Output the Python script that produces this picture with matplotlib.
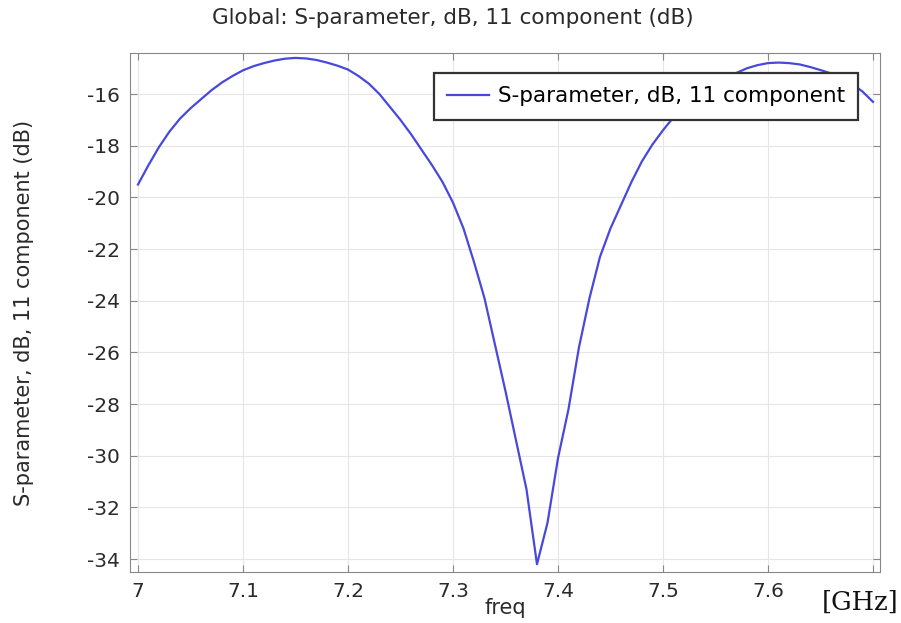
import numpy as np
import matplotlib
matplotlib.use('Agg')
import matplotlib.pyplot as plt

plt.rcParams['axes.unicode_minus'] = False

# S11, 0.01 GHz steps
freq = np.round(np.arange(7.0, 7.7001, 0.01), 2)
s11_db = [
    -19.5, -18.75, -18.05, -17.45, -16.95, -16.55, -16.2, -15.85, -15.55, -15.3,
    -15.08, -14.92, -14.8, -14.7, -14.63, -14.6, -14.62, -14.68, -14.78, -14.9,
    -15.05, -15.3, -15.6, -16.0, -16.5, -17.0, -17.55, -18.15, -18.75, -19.4,
    -20.2, -21.2, -22.5, -23.9, -25.7, -27.5, -29.4, -31.3, -34.2, -32.6,
    -30.1, -28.2, -25.8, -23.9, -22.3, -21.2, -20.3, -19.4, -18.6, -17.95,
    -17.4, -16.9, -16.5, -16.15, -15.85, -15.6, -15.38, -15.18, -15.0, -14.88,
    -14.8, -14.78, -14.8, -14.85, -14.95, -15.07, -15.2, -15.38, -15.6, -15.9,
    -16.3,
]
xticks = [7.0, 7.1, 7.2, 7.3, 7.4, 7.5, 7.6, 7.7]
xticklabels = ['7', '7.1', '7.2', '7.3', '7.4', '7.5', '7.6', '']
yticks = list(range(-34, -15, 2))

fig = plt.figure(figsize=(9.01, 6.23), dpi=100)
ax = fig.add_axes([0.1443, 0.0819, 0.8324, 0.833])

ax.plot(freq, s11_db, color='#4848dc', lw=1.6, label='S-parameter, dB, 11 component')

ax.set_xlim(6.9924, 7.7067)
ax.set_ylim(-34.5, -14.41)
ax.set_xticks(xticks)
ax.set_xticklabels(xticklabels)
ax.set_yticks(yticks)
ax.grid(True, color='#e6e6e6', lw=0.8)
ax.tick_params(direction='in', top=True, right=True, length=5, color='#888888',
               labelsize=14.5, labelcolor='#2a2a2a', pad=7)
for s in ax.spines.values():
    s.set_color('#888888')

fig.text(0.503, 0.971, 'Global: S-parameter, dB, 11 component (dB)', fontsize=15.5,
         ha='center', va='center', color='#2a2a2a')
ax.set_ylabel('S-parameter, dB, 11 component (dB)', fontsize=15, color='#2a2a2a')
ax.yaxis.set_label_coords(-0.128, 0.5)
ax.set_xlabel('freq', fontsize=15, color='#2a2a2a')
ax.xaxis.set_label_coords(0.5, -0.05)

leg = ax.legend(loc='upper right', bbox_to_anchor=(0.9707, 0.9615), borderaxespad=0,
                fontsize=15.5, fancybox=False, framealpha=1, edgecolor='#333333',
                borderpad=0.62, handlelength=1.95, handletextpad=0.4)
leg.get_frame().set_linewidth(1.6)

fig.text(0.997, 0.033, '[GHz]', family='DejaVu Serif', fontsize=18.5, ha='right', va='center',
         color='#111111')

plt.savefig('out.png', dpi=100)
